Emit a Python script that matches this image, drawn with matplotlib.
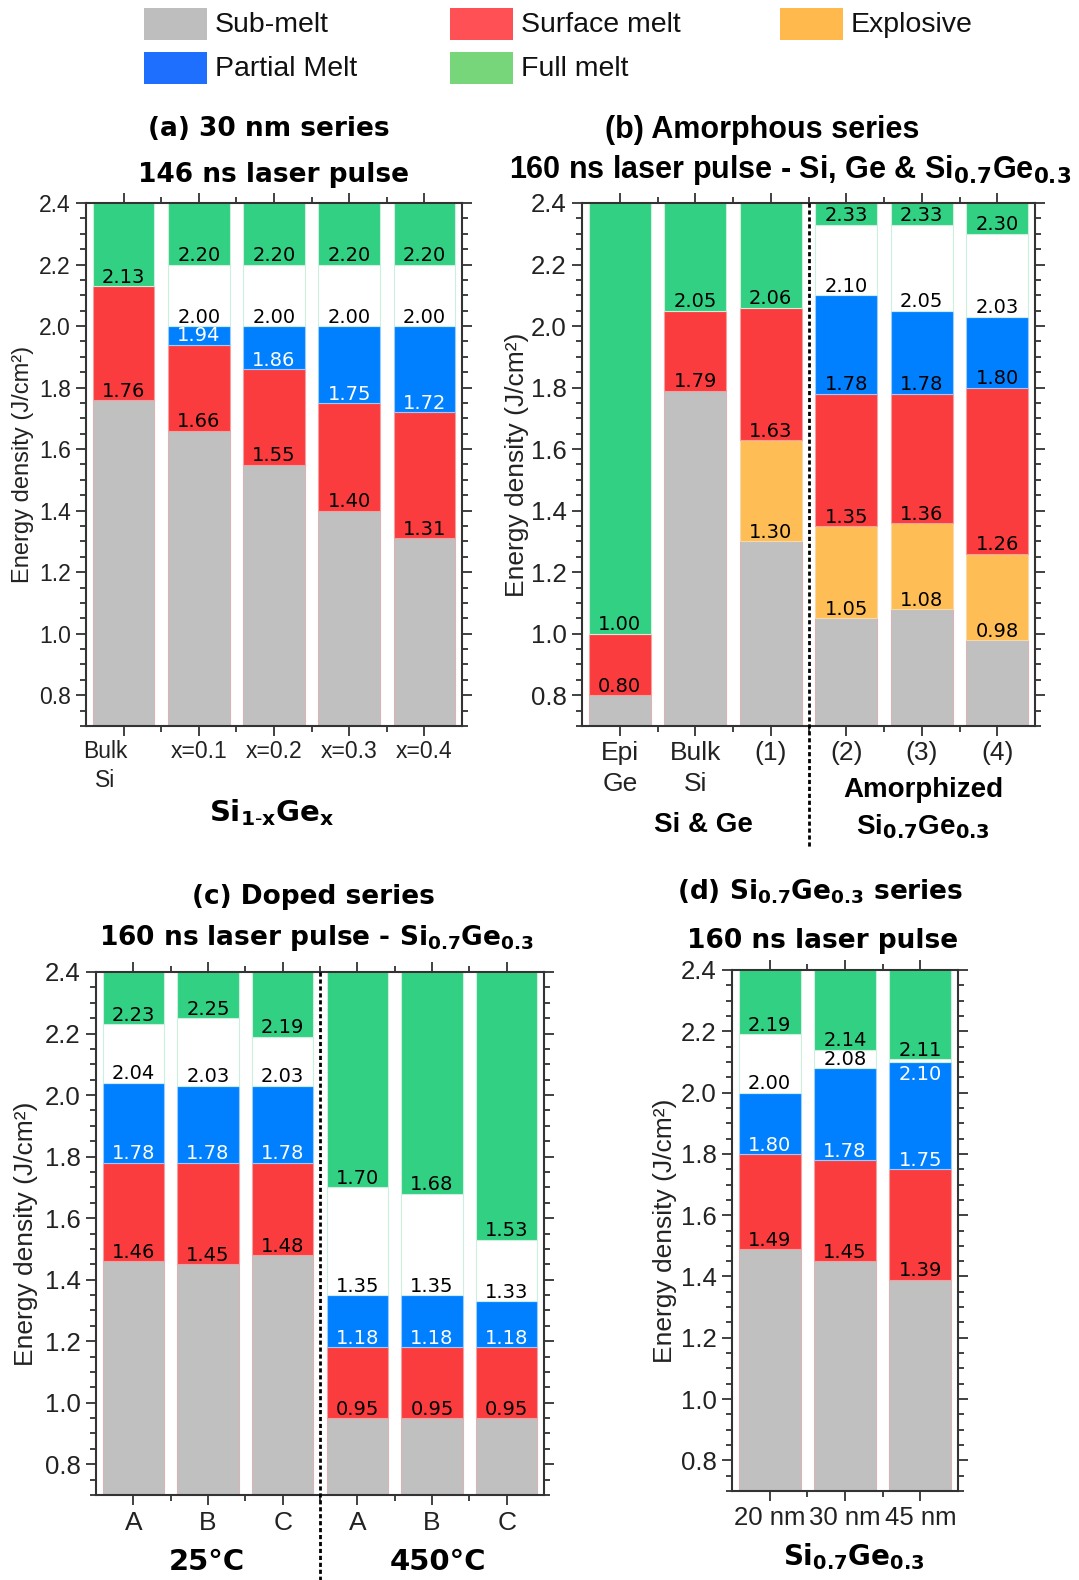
import numpy as np
import matplotlib
matplotlib.use('Agg')
import matplotlib.pyplot as plt
from matplotlib.patches import Rectangle
from matplotlib.ticker import MultipleLocator, FixedLocator
from matplotlib.transforms import ScaledTranslation

plt.rcParams['font.family'] = ['Liberation Sans', 'DejaVu Sans']
plt.rcParams['mathtext.fontset'] = 'dejavusans'

nan = np.nan
W, H = 1079, 1580
Y_MIN, Y_MAX = 0.7, 2.4

# ---------------- data ----------------
phases = ['Sub-melt', 'Surface melt', 'Explosive', 'Partial Melt', 'Full melt']

# (a) 30 nm series, 146 ns
a_labels = ['Bulk\nSi', 'x=0.1', 'x=0.2', 'x=0.3', 'x=0.4']
a_sub = [1.76, 1.66, 1.55, 1.40, 1.31]
a_expl = [nan, nan, nan, nan, nan]
a_surf = [2.13, 1.94, 1.86, 1.75, 1.72]
a_part = [nan, 2.00, 2.00, 2.00, 2.00]
a_full = [2.13, 2.20, 2.20, 2.20, 2.20]

# (b) Amorphous series, 160 ns
b_labels = ['Epi\nGe', 'Bulk\nSi', '(1)', '(2)', '(3)', '(4)']
b_sub = [0.80, 1.79, 1.30, 1.05, 1.08, 0.98]
b_expl = [nan, nan, 1.63, 1.35, 1.36, 1.26]
b_surf = [1.00, 2.05, 2.06, 1.78, 1.78, 1.80]
b_part = [nan, nan, nan, 2.10, 2.05, 2.03]
b_full = [1.00, 2.05, 2.06, 2.33, 2.33, 2.30]

# (c) Doped series
c_labels = ['A', 'B', 'C', 'A', 'B', 'C']
c_sub = [1.46, 1.45, 1.48, 0.95, 0.95, 0.95]
c_expl = [nan, nan, nan, nan, nan, nan]
c_surf = [1.78, 1.78, 1.78, 1.18, 1.18, 1.18]
c_part = [2.04, 2.03, 2.03, 1.35, 1.35, 1.33]
c_full = [2.23, 2.25, 2.19, 1.70, 1.68, 1.53]

# (d) Si0.7Ge0.3 thickness series
d_labels = ['20 nm', '30 nm', '45 nm']
d_sub = [1.49, 1.45, 1.39]
d_expl = [nan, nan, nan]
d_surf = [1.80, 1.78, 1.75]
d_part = [2.00, 2.08, 2.10]
d_full = [2.19, 2.14, 2.11]

# ---------------- style ----------------
C_GREY, C_RED, C_ORANGE, C_BLUE, C_GREEN = '#C0C0C0', '#FA3C3E', '#FFBE55', '#0080FF', '#32D082'
L_COLORS = ['#BEBEBE', '#FF5056', '#FFB94D', '#1F6FFF', '#78D67A']
BW = 0.82
SP = '#333333'

fig = plt.figure(figsize=(W / 100, H / 100), dpi=100)


def rect(l, t, r, b):
    return [l / W, 1 - b / H, (r - l) / W, (b - t) / H]


def ftext(x, y, s, **kw):
    fig.text(x / W, 1 - y / H, s, **kw)


def draw(ax, labels, sub, expl, surf, part, full, blue_txt, tfs, xfs, yfs, lfs,
         xpad, ylab_x, lsp):
    n = len(labels)
    x = np.arange(n)
    sub, expl, surf, part, full = map(np.asarray, (sub, expl, surf, part, full))
    expl_top = np.where(np.isnan(expl), sub, expl)
    part_top = np.where(np.isnan(part), surf, part)
    segs = [
        (np.full(n, Y_MIN), sub, C_GREY, '#D8B4B4'),
        (sub, expl_top, C_ORANGE, '#F5D9A8'),
        (expl_top, surf, C_RED, '#F3A0A0'),
        (surf, part_top, C_BLUE, '#9CCBFF'),
        (part_top, full, 'white', '#CDEFDD'),
        (full, np.full(n, Y_MAX), C_GREEN, '#CDEFDD'),
    ]
    for lo, hi, col, ec in segs:
        m = (hi - lo) > 1e-9
        if m.any():
            ax.bar(x[m], (hi - lo)[m], bottom=lo[m], width=BW, color=col,
                   edgecolor=ec, linewidth=0.8, zorder=2)
    # value labels
    for i in range(n):
        items = [(sub[i], 1, 'black')]
        if not np.isnan(expl[i]):
            items.append((expl[i], 1, 'black'))
        if not np.isnan(part[i]):
            items.append((surf[i], 1, blue_txt))
            if full[i] - part[i] < 0.03:
                items.append((part[i], -1, 'white'))
            else:
                items.append((part[i], 1, 'black'))
            items.append((full[i], 1, 'black'))
        else:
            items.append((surf[i], 1, 'black'))
            if full[i] - surf[i] > 1e-9:
                items.append((full[i], 1, 'black'))
        for v, d, col in items:
            ax.annotate(f'{v:.2f}', xy=(x[i], v), xytext=(0, 2.4 * d),
                        textcoords='offset points', ha='center',
                        va='baseline' if d > 0 else 'top', color=col,
                        fontsize=lfs, family='DejaVu Sans', zorder=5)
    ax.set_xlim(-0.5, n - 0.5)
    ax.set_ylim(Y_MIN, Y_MAX)
    ax.set_xticks(x)
    ax.set_xticklabels(labels, fontsize=xfs, linespacing=lsp, color='#222222')
    ax.xaxis.set_minor_locator(FixedLocator(x[:-1] + 0.5))
    ax.yaxis.set_major_locator(MultipleLocator(0.2))
    ax.yaxis.set_minor_locator(MultipleLocator(0.05))
    ax.yaxis.set_major_formatter(plt.FormatStrFormatter('%.1f'))
    ax.tick_params(which='both', direction='out', top=True, right=True,
                   width=1.3, color=SP)
    ax.tick_params(which='major', length=7)
    ax.tick_params(which='minor', length=4)
    ax.tick_params(axis='y', labelsize=yfs, pad=4, labelcolor='#222222')
    ax.tick_params(axis='x', which='major', pad=xpad)
    for s in ax.spines.values():
        s.set_linewidth(1.5)
        s.set_color(SP)
    ax.set_ylabel('Energy density (J/cm²)', fontsize=tfs, color='#222222')
    ax.yaxis.set_label_coords(ylab_x, 0.5)


axa = fig.add_axes(rect(86, 203, 462, 726))
draw(axa, a_labels, a_sub, a_expl, a_surf, a_part, a_full, 'white',
     17, 16.5, 16.5, 14, 3, -0.138, 1.33)
axb = fig.add_axes(rect(582, 203, 1035, 726))
draw(axb, b_labels, b_sub, b_expl, b_surf, b_part, b_full, 'black',
     19, 19, 18.5, 14, 4, -0.117, 1.36)
axc = fig.add_axes(rect(96, 972, 544, 1495))
draw(axc, c_labels, c_sub, c_expl, c_surf, c_part, c_full, 'white',
     19, 19, 18.5, 14, 4.5, -0.129, 1.2)
axd = fig.add_axes(rect(732, 970, 958, 1491))
draw(axd, d_labels, d_sub, d_expl, d_surf, d_part, d_full, 'white',
     19, 18.5, 18.5, 14, 3.5, -0.243, 1.2)

# shift the "Bulk Si" label of panel (a) left, as in the original
lab0 = axa.get_xticklabels()[0]
lab0.set_transform(lab0.get_transform() + ScaledTranslation(-0.18, 0, fig.dpi_scale_trans))

# dotted separators
axb.plot([2.5, 2.5], [1.0, -0.233], transform=axb.get_xaxis_transform(),
         clip_on=False, color='black', lw=2, ls=(0, (1.5, 1)), zorder=6)
axc.plot([2.5, 2.5], [1.0, -0.17], transform=axc.get_xaxis_transform(),
         clip_on=False, color='black', lw=2, ls=(0, (1.5, 1)), zorder=6)

SUB = r'Si$_{\mathbf{0.7}}$Ge$_{\mathbf{0.3}}$'
bold_dv = dict(family='DejaVu Sans', fontweight='bold', ha='center', va='baseline')
bold_ls = dict(family='Liberation Sans', fontweight='bold', ha='center', va='baseline')

# titles
ftext(269, 136, '(a) 30 nm series', fontsize=19, **bold_dv)
ftext(274, 182, '146 ns laser pulse', fontsize=19, **bold_dv)
ftext(762, 138, '(b) Amorphous series', fontsize=22, **bold_ls)
ftext(790, 178, '160 ns laser pulse - Si, Ge & ' + SUB, fontsize=22, **bold_ls)
ftext(313, 904, '(c) Doped series', fontsize=19, **bold_dv)
ftext(316, 945, '160 ns laser pulse - ' + SUB, fontsize=19, **bold_dv)
ftext(820, 899, '(d) ' + SUB + ' series', fontsize=19, **bold_dv)
ftext(823, 948, '160 ns laser pulse', fontsize=19, **bold_dv)

# group labels
ftext(272, 821, r'Si$_{\mathbf{1\text{-}x}}$Ge$_{\mathbf{x}}$', fontsize=21, **bold_dv)
ftext(703, 832, 'Si & Ge', fontsize=20, **bold_ls)
ftext(923, 797, 'Amorphized', fontsize=20, **bold_ls)
ftext(923, 834, SUB, fontsize=20, **bold_ls)
ftext(207, 1570, '25°C', fontsize=21, **bold_dv)
ftext(438, 1570, '450°C', fontsize=21, **bold_dv)
ftext(854, 1565, SUB, fontsize=20, **bold_dv)

# legend
leg = [(144, 8, 0), (450, 8, 1), (780, 8, 2), (144, 52, 3), (450, 52, 4)]
for px, py, k in leg:
    fig.add_artist(Rectangle((px / W, 1 - (py + 32) / H), 63 / W, 32 / H,
                             transform=fig.transFigure, facecolor=L_COLORS[k],
                             edgecolor='none'))
    ftext(px + 71, py + 17, phases[k], fontsize=20.5, ha='left', va='center',
          color='#111111')

fig.savefig('out.png', dpi=100)
